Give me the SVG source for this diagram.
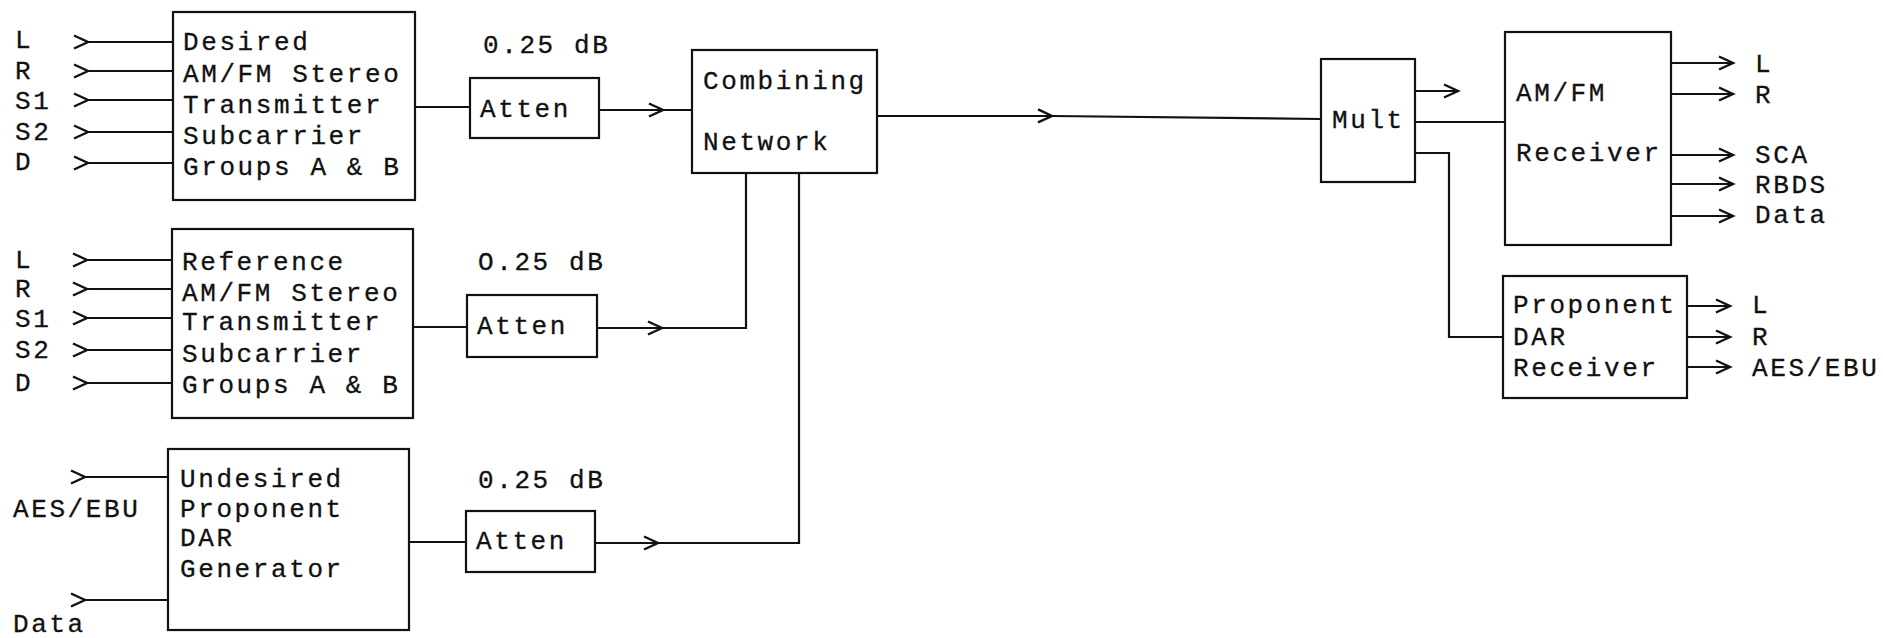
<svg xmlns="http://www.w3.org/2000/svg" width="1883" height="638" viewBox="0 0 1883 638">
<style>
text{font-family:"Liberation Mono","Courier New",monospace;font-size:26px;letter-spacing:2.6px;fill:#111;stroke:#111;stroke-width:0.3;}
.box{fill:#fff;stroke:#111;stroke-width:2.2;}
.ln{fill:none;stroke:#111;stroke-width:2.2;}
</style>
<defs>
<marker id="chev" markerUnits="userSpaceOnUse" markerWidth="20" markerHeight="20" viewBox="-16 -10 20 20" refX="0" refY="0" orient="auto">
<path d="M-14,-6.5 L0,0 L-14,6.5" fill="none" stroke="#111" stroke-width="2.4"/>
</marker>
</defs>
<rect width="1883" height="638" fill="#fff"/>
<g id="connectors">
<path class="ln" marker-start="url(#chev)" d="M88,42 H173"/>
<path class="ln" marker-start="url(#chev)" d="M88,71 H173"/>
<path class="ln" marker-start="url(#chev)" d="M88,100 H173"/>
<path class="ln" marker-start="url(#chev)" d="M88,132 H173"/>
<path class="ln" marker-start="url(#chev)" d="M88,163 H173"/>
<path class="ln" marker-start="url(#chev)" d="M87,260 H172"/>
<path class="ln" marker-start="url(#chev)" d="M87,289 H172"/>
<path class="ln" marker-start="url(#chev)" d="M87,318 H172"/>
<path class="ln" marker-start="url(#chev)" d="M87,350 H172"/>
<path class="ln" marker-start="url(#chev)" d="M87,383 H172"/>
<path class="ln" marker-start="url(#chev)" d="M85,477 H168"/>
<path class="ln" marker-start="url(#chev)" d="M85,600 H168"/>
<path class="ln" d="M415,107 H470"/>
<path class="ln" d="M413,327 H467"/>
<path class="ln" d="M409,542 H466"/>
<path class="ln" marker-mid="url(#chev)" d="M599,110 L663,110 L692,110"/>
<path class="ln" marker-mid="url(#chev)" d="M597,328 L662,328 L746,328"/>
<path class="ln" d="M746,329 V173"/>
<path class="ln" marker-mid="url(#chev)" d="M595,543 L658,543 L799,543"/>
<path class="ln" d="M799,544 V173"/>
<path class="ln" marker-mid="url(#chev)" d="M877,116 L1052,116 L1321,119"/>
<path class="ln" marker-end="url(#chev)" d="M1415,91 H1458"/>
<path class="ln" d="M1415,122 H1505"/>
<path class="ln" d="M1415,153 H1449 V337 H1503"/>
<path class="ln" marker-end="url(#chev)" d="M1671,63 H1733"/>
<path class="ln" marker-end="url(#chev)" d="M1671,94 H1733"/>
<path class="ln" marker-end="url(#chev)" d="M1671,155 H1733"/>
<path class="ln" marker-end="url(#chev)" d="M1671,184 H1733"/>
<path class="ln" marker-end="url(#chev)" d="M1671,216 H1733"/>
<path class="ln" marker-end="url(#chev)" d="M1687,306 H1730"/>
<path class="ln" marker-end="url(#chev)" d="M1687,337 H1730"/>
<path class="ln" marker-end="url(#chev)" d="M1687,367 H1730"/>
</g>
<g id="inputs1">
<text x="15" y="48">L</text>
<text x="15" y="79">R</text>
<text x="15" y="109">S1</text>
<text x="15" y="140">S2</text>
<text x="15" y="170">D</text>
</g>
<g id="desired-tx">
<rect class="box" x="173" y="12" width="242" height="188"/>
<text x="183" y="50">Desired</text>
<text x="183" y="82">AM/FM Stereo</text>
<text x="183" y="113">Transmitter</text>
<text x="183" y="144">Subcarrier</text>
<text x="183" y="175">Groups A &amp; B</text>
</g>
<g id="inputs2">
<text x="15" y="268">L</text>
<text x="15" y="297">R</text>
<text x="15" y="327">S1</text>
<text x="15" y="358">S2</text>
<text x="15" y="391">D</text>
</g>
<g id="reference-tx">
<rect class="box" x="172" y="229" width="241" height="189"/>
<text x="182" y="270">Reference</text>
<text x="182" y="301">AM/FM Stereo</text>
<text x="182" y="330">Transmitter</text>
<text x="182" y="362">Subcarrier</text>
<text x="182" y="393">Groups A &amp; B</text>
</g>
<g id="inputs3">
<text x="13" y="517">AES/EBU</text>
<text x="13" y="632">Data</text>
</g>
<g id="undesired-gen">
<rect class="box" x="168" y="449" width="241" height="181"/>
<text x="180" y="487">Undesired</text>
<text x="180" y="517">Proponent</text>
<text x="180" y="546">DAR</text>
<text x="180" y="577">Generator</text>
</g>
<g id="atten1">
<text x="483" y="53">0.25 dB</text>
<rect class="box" x="470" y="78" width="129" height="60"/>
<text x="480" y="117">Atten</text>
</g>
<g id="atten2">
<text x="478" y="270">O.25 dB</text>
<rect class="box" x="467" y="295" width="130" height="62"/>
<text x="477" y="334">Atten</text>
</g>
<g id="atten3">
<text x="478" y="488">0.25 dB</text>
<rect class="box" x="466" y="511" width="129" height="61"/>
<text x="476" y="549">Atten</text>
</g>
<g id="combining">
<rect class="box" x="692" y="50" width="185" height="123"/>
<text x="703" y="89">Combining</text>
<text x="703" y="150">Network</text>
</g>
<g id="mult">
<rect class="box" x="1321" y="59" width="94" height="123"/>
<text x="1332" y="128">Mult</text>
</g>
<g id="amfm-rx">
<rect class="box" x="1505" y="32" width="166" height="213"/>
<text x="1516" y="101">AM/FM</text>
<text x="1516" y="161">Receiver</text>
</g>
<g id="amfm-out">
<text x="1755" y="72">L</text>
<text x="1755" y="103">R</text>
<text x="1755" y="163">SCA</text>
<text x="1755" y="193">RBDS</text>
<text x="1755" y="223">Data</text>
</g>
<g id="dar-rx">
<rect class="box" x="1503" y="276" width="184" height="122"/>
<text x="1513" y="313">Proponent</text>
<text x="1513" y="345">DAR</text>
<text x="1513" y="376">Receiver</text>
</g>
<g id="dar-out">
<text x="1752" y="313">L</text>
<text x="1752" y="345">R</text>
<text x="1752" y="376">AES/EBU</text>
</g>
</svg>
